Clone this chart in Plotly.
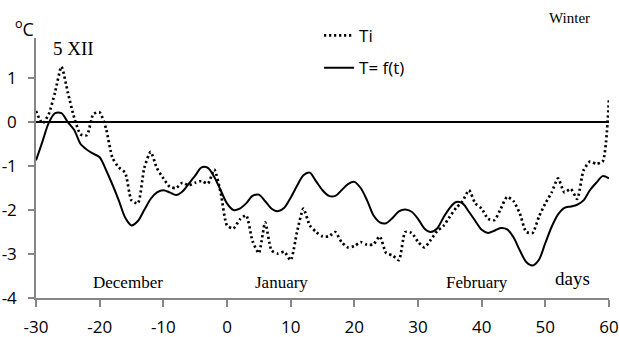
import plotly.graph_objects as go

days = list(range(-30, 61))

# Ti (dotted) - measured internal temperature, one value per day
ti = [0.25, -0.03, 0.18, 0.68, 1.26, 0.67, 0.10, -0.28, -0.30, 0.18,
      0.22, -0.15, -0.81, -1.03, -1.15, -1.78, -1.85, -1.05, -0.68, -1.05,
      -1.28, -1.47, -1.50, -1.38, -1.44, -1.38, -1.34, -1.40, -1.08, -1.60,
      -2.35, -2.42, -2.22, -2.12, -2.70, -2.98, -2.28, -2.92, -2.99, -2.95,
      -3.14, -2.50, -1.97, -2.35, -2.50, -2.60, -2.60, -2.50, -2.73, -2.85,
      -2.82, -2.73, -2.79, -2.78, -2.60, -2.98, -3.03, -3.14, -2.50, -2.52,
      -2.72, -2.85, -2.68, -2.48, -2.36, -2.15, -1.95, -1.80, -1.55, -1.85,
      -1.97, -2.20, -2.23, -1.97, -1.70, -1.80, -2.08, -2.50, -2.52, -2.15,
      -1.85, -1.60, -1.28, -1.60, -1.52, -1.75, -1.10, -0.90, -0.95, -0.90,
      0.54]

# T = f(t) (solid) - model curve, one value per day
tf = [-0.87, -0.45, -0.02, 0.20, 0.20, 0.00, -0.18, -0.50, -0.63, -0.72,
      -0.80, -1.09, -1.42, -1.78, -2.17, -2.35, -2.25, -2.00, -1.75, -1.60,
      -1.55, -1.60, -1.66, -1.58, -1.40, -1.22, -1.03, -1.04, -1.25, -1.55,
      -1.85, -2.00, -1.97, -1.85, -1.68, -1.65, -1.80, -1.97, -2.03, -1.95,
      -1.72, -1.45, -1.21, -1.15, -1.35, -1.55, -1.68, -1.68, -1.55, -1.41,
      -1.36, -1.50, -1.78, -2.12, -2.28, -2.30, -2.18, -2.03, -1.99, -2.04,
      -2.20, -2.42, -2.50, -2.42, -2.17, -1.95, -1.82, -1.85, -2.04, -2.25,
      -2.45, -2.52, -2.47, -2.41, -2.44, -2.62, -2.92, -3.18, -3.26, -3.13,
      -2.75, -2.38, -2.10, -1.95, -1.92, -1.88, -1.78, -1.55, -1.38, -1.23,
      -1.28]

x_ticks = [-30, -20, -10, 0, 10, 20, 30, 40, 50, 60]
y_ticks = [-4, -3, -2, -1, 0, 1]
x_labels = [str(v) for v in x_ticks]
y_labels = [str(v) for v in y_ticks]

sans = "Open Sans"
serif = "Liberation Serif"

W, H = 619, 337
L, R, T, B = 36, 10, 38, 39

fig = go.Figure()
fig.add_trace(go.Scatter(
    x=days, y=ti, mode="lines", name="Ti", legend="legend",
    line=dict(color="black", width=2.7, dash="2.2px,2.8px", shape="spline", smoothing=0.6),
))
fig.add_trace(go.Scatter(
    x=days, y=tf, mode="lines", name="T= f(t)", legend="legend2",
    line=dict(color="black", width=2, shape="spline", smoothing=0.8),
))

fig.update_layout(
    width=W, height=H,
    margin=dict(l=L, r=R, t=T, b=B, autoexpand=False),
    paper_bgcolor="white", plot_bgcolor="white",
    font=dict(family=sans, size=17, color="black"),
    legend=dict(x=0.494, y=1.008, xanchor="left", yanchor="middle",
                bgcolor="rgba(0,0,0,0)", font=dict(family=sans, size=17)),
    legend2=dict(x=0.494, y=0.884, xanchor="left", yanchor="middle",
                 bgcolor="rgba(0,0,0,0)", font=dict(family=sans, size=17)),
    xaxis=dict(range=[-30, 60], tickvals=x_ticks, ticktext=x_labels,
               showgrid=False, zeroline=False, automargin=False,
               showline=True, linecolor="#868686", linewidth=1.5,
               ticks="outside", ticklen=7, tickcolor="#868686", tickwidth=1.5,
               ticklabelstandoff=6, tickfont=dict(family=sans, size=17)),
    yaxis=dict(range=[-4, 1.91], tickvals=y_ticks, ticktext=y_labels,
               showgrid=False, automargin=False,
               zeroline=True, zerolinecolor="black", zerolinewidth=2,
               showline=True, linecolor="#868686", linewidth=1.5,
               ticks="outside", ticklen=6, tickcolor="#868686", tickwidth=1.5,
               ticklabelstandoff=8, tickfont=dict(family=sans, size=17)),
    showlegend=True,
)

ann = [
    dict(text="5 XII", x=-24.1, y=1.67, xref="x", yref="y", font=dict(family=serif, size=19)),
    dict(text="December", x=-15.5, y=-3.64, xref="x", yref="y", font=dict(family=serif, size=17)),
    dict(text="January", x=8.5, y=-3.64, xref="x", yref="y", font=dict(family=serif, size=17)),
    dict(text="February", x=39.3, y=-3.64, xref="x", yref="y", font=dict(family=serif, size=17)),
    dict(text="days", x=54.2, y=-3.55, xref="x", yref="y", font=dict(family=serif, size=19)),
]
for a in ann:
    fig.add_annotation(showarrow=False, xanchor="center", yanchor="middle", **a)

pw, ph = W - L - R, H - T - B


def px_to_paper(px, py):
    return (px - L) / pw, (H - py - B) / ph


wx, wy = px_to_paper(569, 18)
fig.add_annotation(text="Winter", x=wx, y=wy, xref="paper", yref="paper",
                   showarrow=False, xanchor="center", yanchor="middle",
                   font=dict(family=serif, size=15))
cx, cy = px_to_paper(24.5, 28)
fig.add_annotation(text="<sup>o</sup>C", x=cx, y=cy, xref="paper", yref="paper",
                   showarrow=False, xanchor="center", yanchor="middle",
                   font=dict(family=sans, size=18))

fig.write_html("out.html",
               config={"displayModeBar": False},
               post_script="document.body.style.margin='0';document.body.style.overflow='hidden';")
